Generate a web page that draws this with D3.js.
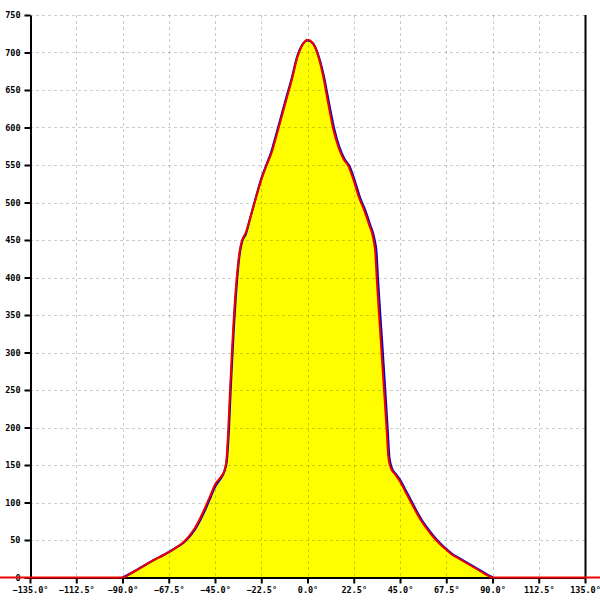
<!DOCTYPE html>
<html><head><meta charset="utf-8">
<script src="https://cdn.jsdelivr.net/npm/d3@7"></script>
<style>body{margin:0;background:#fff}svg{display:block}</style>
</head><body><svg id="c" width="600" height="600"></svg>
<script>
const xTicks = [-135, -112.5, -90, -67.5, -45, -22.5, 0, 22.5, 45, 67.5, 90, 112.5, 135];
const yTicks = [0, 50, 100, 150, 200, 250, 300, 350, 400, 450, 500, 550, 600, 650, 700, 750];

const redAngles = [-180, -90, -85, -80, -75, -70, -65, -60, -55, -50, -47, -45, -42.5, -40.5, -39.5, -38.5, -37.7, -36.9, -36, -35.2, -34, -33, -32, -30, -27.5, -25, -22.5, -20, -17.5, -15, -12.5, -10, -7.5, -5, -2.5, 0, 2.5, 5, 7.5, 10, 12.5, 15, 17.5, 20, 22.5, 25, 27.5, 30, 32, 33, 33.7, 35.3, 36.9, 38.5, 39.3, 40.5, 42.5, 45, 47.5, 50, 52.5, 55, 57.5, 60, 62.5, 65, 67.5, 70, 72.5, 75, 77.5, 80, 82.5, 85, 87.5, 90, 180];
const redValues = [0, 0, 7, 15, 23, 30, 38, 48, 65, 92, 111, 124, 133, 142, 155, 200, 250, 294, 340, 374, 412, 435, 448, 460, 483, 507, 530, 549, 566, 590, 615, 640, 665, 693, 710, 717, 713, 697, 670, 633, 598, 574, 558, 548, 529, 507, 490, 470, 452, 432, 397, 330, 263, 197, 161, 146, 138, 128, 115, 102, 89, 77, 67, 58, 50, 43, 37, 31, 27, 23, 19, 15, 11, 7, 3, 0, 0];

const blueAngles = [-90, -85, -80, -75, -70, -65, -60, -55, -50, -47, -45, -42.5, -40.5, -39.3, -38.2, -37.4, -36.6, -35.7, -34.9, -33.8, -32.8, -31.8, -30, -27.6, -25.2, -22.8, -20.3, -17.8, -15.3, -12.8, -10.3, -7.7, -5.2, -2.6, 0, 2.7, 5.3, 7.9, 10.5, 13, 15.5, 18, 20.5, 23, 25.5, 28, 30.5, 32.5, 33.6, 34.3, 35.9, 37.5, 39, 39.8, 41, 43, 45.5, 48, 50.5, 53, 55.5, 58, 60.5, 63, 65.5, 68, 70.5, 73, 75.5, 78, 80.5, 83, 85.5, 88, 90.3];
const blueValues = [0, 7, 15, 23, 30, 38, 47, 63, 89, 108, 121, 131, 141, 155, 200, 250, 294, 340, 374, 412, 435, 448, 458, 482, 506, 529, 548, 566, 590, 615, 640, 665, 693, 710, 716, 712, 696, 669, 632, 598, 574, 558, 548, 529, 507, 490, 470, 452, 432, 397, 330, 263, 197, 161, 146, 138, 128, 115, 102, 89, 77, 67, 58, 50, 43, 37, 31, 27, 23, 19, 15, 11, 7, 3, 0];

const svg = d3.select('#c');
const x = d3.scaleLinear().domain([-135, 135]).range([30, 585]);
const y = d3.scaleLinear().domain([0, 750]).range([577.5, 15]);

const red = redAngles.map((a, i) => ({a, v: redValues[i]}));
const blue = blueAngles.map((a, i) => ({a, v: blueValues[i]}));
const inner = red.filter(d => d.a >= -90 && d.a <= 90);

// fill
svg.append('path').datum(inner)
  .attr('d', d3.area().x(d => x(d.a)).y0(y(0)).y1(d => y(d.v)).curve(d3.curveMonotoneX))
  .attr('fill', '#ffff00');

// grid
const grid = svg.append('g').attr('stroke', 'rgba(0,0,0,0.2)').attr('stroke-dasharray', '3,3').attr('stroke-width', 1);
grid.selectAll('line.v').data(xTicks.filter(t => t > -135 && t < 135)).join('line')
  .attr('x1', d => Math.round(x(d)) + 0.5).attr('x2', d => Math.round(x(d)) + 0.5)
  .attr('y1', y(750)).attr('y2', y(0));
grid.selectAll('line.h').data(yTicks.filter(t => t > 0)).join('line')
  .attr('x1', 30).attr('x2', 585)
  .attr('y1', d => Math.round(y(d)) + 0.5).attr('y2', d => Math.round(y(d)) + 0.5);

// axes
const font = 'DejaVu Sans Mono';
const yAxis = svg.append('g').attr('transform', 'translate(30.5,0)')
  .call(d3.axisLeft(y).tickValues(yTicks).tickSize(6).tickSizeOuter(0).tickFormat(d3.format('d')));
yAxis.select('.domain').attr('stroke', '#000').attr('stroke-width', 2);
yAxis.selectAll('.tick line').attr('stroke', '#000').attr('stroke-width', 2);
yAxis.selectAll('text').attr('font-family', font).attr('font-size', 8.5).attr('font-weight', 'bold').attr('fill', '#000').attr('x', -10);

svg.append('line').attr('x1', 585.5).attr('x2', 585.5).attr('y1', y(750)).attr('y2', y(0))
  .attr('stroke', '#000').attr('stroke-width', 2);

const xAxis = svg.append('g').attr('transform', 'translate(0,577.5)')
  .call(d3.axisBottom(x).tickValues(xTicks).tickSize(6).tickSizeOuter(0).tickFormat(d => d3.format('.1f')(d) + '°'));
xAxis.select('.domain').attr('stroke', '#000').attr('stroke-width', 2);
xAxis.selectAll('.tick line').attr('stroke', '#000').attr('stroke-width', 2);
xAxis.selectAll('text').attr('font-family', font).attr('font-size', 8.5).attr('font-weight', 'bold').attr('fill', '#000').attr('y', 9);

// lines
const line = d3.line().x(d => x(d.a)).y(d => y(d.v)).curve(d3.curveMonotoneX);
svg.append('path').datum(blue).attr('d', line).attr('fill', 'none').attr('stroke', '#0000cc').attr('stroke-width', 2.2);
svg.append('path').datum(red).attr('d', line).attr('fill', 'none').attr('stroke', '#ee0000').attr('stroke-width', 2);
</script></body></html>
